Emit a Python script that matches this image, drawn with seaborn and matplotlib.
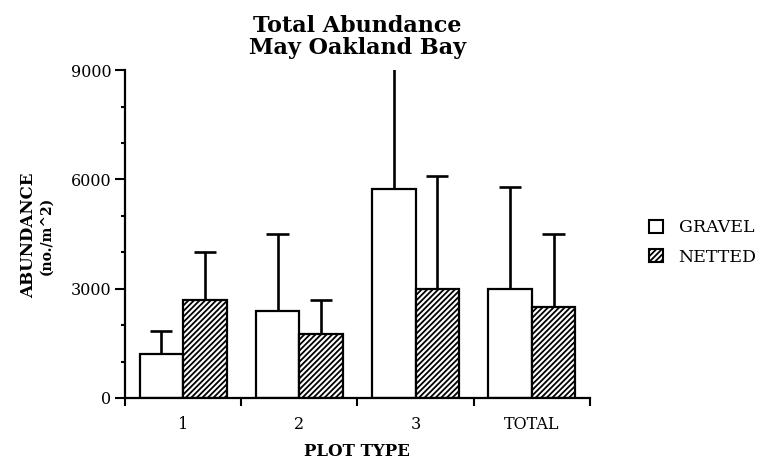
import matplotlib
matplotlib.use("Agg")
import matplotlib.pyplot as plt
import seaborn as sns
import pandas as pd
import numpy as np
from matplotlib.patches import Patch

categories = ["1", "2", "3", "TOTAL"]
series = ["GRAVEL", "NETTED"]
gravel_mean = [1200, 2400, 5750, 3000]
gravel_upper = [1850, 4500, 9500, 5800]
netted_mean = [2700, 1750, 3000, 2500]
netted_upper = [4000, 2700, 6100, 4500]
y_ticks = [0, 3000, 6000, 9000]

sns.set_theme(style="ticks")
plt.rcParams["font.family"] = ["DejaVu Serif"]
plt.rcParams["hatch.linewidth"] = 1.3
plt.rcParams["hatch.color"] = "black"
for k in ["text.color", "axes.labelcolor", "xtick.color", "ytick.color", "axes.edgecolor"]:
    plt.rcParams[k] = "black"

df = pd.DataFrame({
    "plot": categories * 2,
    "type": [series[0]] * 4 + [series[1]] * 4,
    "abund": gravel_mean + netted_mean,
})

fig = plt.figure(figsize=(7.67, 4.71), dpi=100)
ax = fig.add_axes([0.163, 0.155, 0.606, 0.696])

sns.barplot(data=df, x="plot", y="abund", hue="type", order=categories,
            hue_order=series, palette=["white", "white"], edgecolor="black",
            linewidth=1.6, width=0.75, gap=0, errorbar=None, legend=False, ax=ax)

bar_containers = list(ax.containers)
uppers = [gravel_upper, netted_upper]
means = [gravel_mean, netted_mean]
cap_half = 0.095
for ci, cont in enumerate(bar_containers):
    xs = []
    for p in cont.patches:
        if ci == 1:
            p.set_hatch("//////")
        xs.append(p.get_x() + p.get_width() / 2)
    xs = np.array(xs)
    ax.vlines(xs, means[ci], uppers[ci], color="black", linewidth=1.9, zorder=1)
    ax.hlines(uppers[ci], xs - cap_half, xs + cap_half, color="black",
              linewidth=1.9, zorder=1)

ax.set_ylim(0, 9000)
ax.set_xlim(-0.5, 3.5)
ax.set_yticks(y_ticks)
ax.set_yticks(np.arange(0, 9001, 1000), minor=True)
ax.set_xticks(np.arange(-0.5, 3.6, 1.0), minor=True)
ax.tick_params(axis="x", which="major", length=0, labelsize=11.5, pad=13)
ax.tick_params(axis="x", which="minor", length=6, width=1.5, direction="out")
ax.tick_params(axis="y", which="major", length=7, width=1.5, labelsize=11.5, pad=3)
ax.tick_params(axis="y", which="minor", length=3, width=1.5)
sns.despine(ax=ax)
for s in ["left", "bottom"]:
    ax.spines[s].set_linewidth(1.6)
    ax.spines[s].set_color("black")

ax.set_xlabel("PLOT TYPE", fontsize=12, fontweight="bold", labelpad=7)
ax.set_ylabel("")
fig.text(0.037, 0.50, "ABUNDANCE", rotation=90, ha="center", va="center",
         fontsize=12, fontweight="bold")
fig.text(0.060, 0.50, "(no./m^2)", rotation=90, ha="center", va="center",
         fontsize=10, fontweight="bold")
ax.set_title("Total Abundance\nMay Oakland Bay", fontsize=16, fontweight="bold",
             linespacing=0.95, pad=12)

handles = [Patch(facecolor="white", edgecolor="black", linewidth=1.5),
           Patch(facecolor="white", edgecolor="black", linewidth=1.5, hatch="//////")]
fig.legend(handles, series, loc="center left", bbox_to_anchor=(0.826, 0.485),
           frameon=False, fontsize=12.5, handlelength=0.8, handleheight=0.8,
           handletextpad=0.9, labelspacing=0.7)

fig.savefig("out.png", dpi=100)
